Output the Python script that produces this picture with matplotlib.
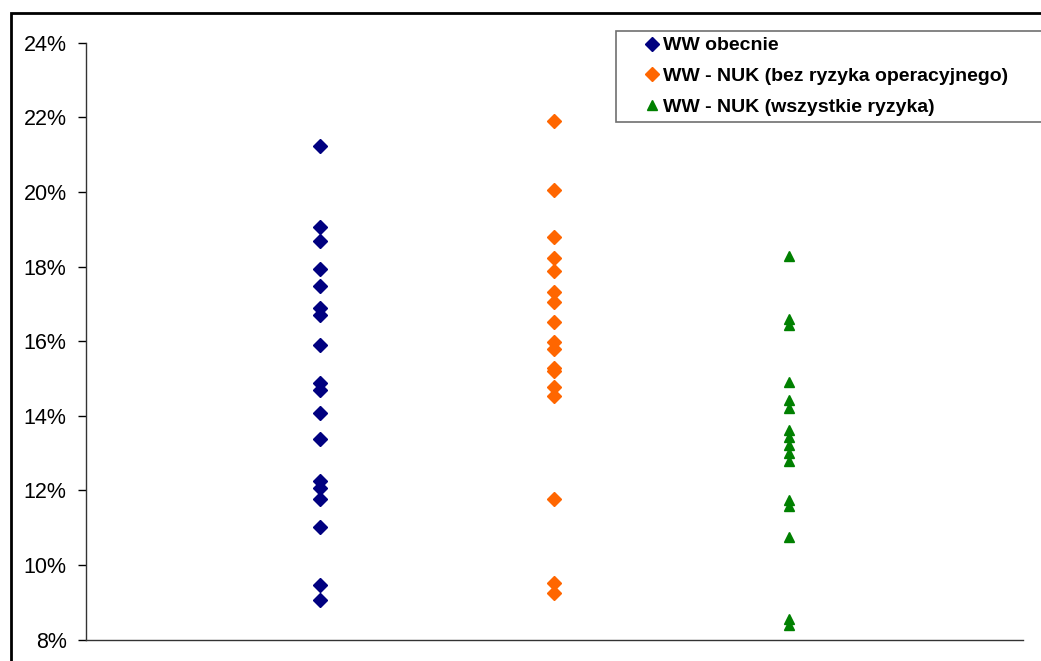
import numpy as np
import matplotlib.pyplot as plt
from matplotlib.patches import Rectangle
from matplotlib.ticker import FuncFormatter

plt.rcParams['font.family'] = ['Liberation Sans', 'DejaVu Sans']

# Values in percent for each scenario
ww_obecnie = [21.23, 19.05, 18.68, 17.93, 17.48, 16.88, 16.70, 15.89, 14.87,
              14.69, 14.06, 13.37, 12.25, 12.07, 11.78, 11.02, 9.46, 9.05]
ww_nuk_bez_oper = [21.89, 20.06, 18.79, 18.24, 17.88, 17.32, 17.05, 16.52,
                   15.98, 15.78, 15.29, 15.20, 14.78, 14.53, 11.77, 9.52, 9.25]
ww_nuk_wszystkie = [18.29, 16.58, 16.42, 14.90, 14.42, 14.22, 13.62, 13.42,
                    13.22, 13.01, 12.79, 11.73, 11.59, 10.76, 8.55, 8.40]

labels = ["WW obecnie",
          "WW - NUK (bez ryzyka operacyjnego)",
          "WW - NUK (wszystkie ryzyka)"]
yticks = [8, 10, 12, 14, 16, 18, 20, 22, 24]

fig = plt.figure(figsize=(10.41, 6.61), dpi=100)
ax = fig.add_axes([0.0826, 0.0325, 0.8998, 0.9029])

ax.plot(np.full(len(ww_obecnie), 1), ww_obecnie, linestyle='none', marker='D',
        markersize=7.1, color='#000080', label=labels[0])
ax.plot(np.full(len(ww_nuk_bez_oper), 2), ww_nuk_bez_oper, linestyle='none', marker='D',
        markersize=7.1, color='#FF6600', label=labels[1])
ax.plot(np.full(len(ww_nuk_wszystkie), 3), ww_nuk_wszystkie, linestyle='none', marker='^',
        markersize=7.7, color='#008000', label=labels[2])

ax.set_xlim(0, 4)
ax.set_ylim(8, 24)
ax.set_yticks(yticks)
ax.yaxis.set_major_formatter(FuncFormatter(lambda v, p: f"{v:.0f}%"))
ax.set_xticks([])
ax.tick_params(axis='y', direction='out', length=6, width=1, pad=8,
               labelsize=15.5, colors='black')

for side in ('top', 'right'):
    ax.spines[side].set_visible(False)
for side in ('left', 'bottom'):
    ax.spines[side].set_linewidth(1)
    ax.spines[side].set_color('#333333')

leg = ax.legend(loc='upper left', bbox_to_anchor=(0.5917, 0.70, 0.46, 0.2531),
                bbox_transform=fig.transFigure, mode='expand', borderaxespad=0,
                prop={'size': 14, 'weight': 'bold'}, numpoints=1,
                handlelength=3.1, handletextpad=-0.98, borderpad=0.3,
                labelspacing=0.68, fancybox=False, framealpha=1)
leg.get_frame().set_edgecolor('#707070')
leg.get_frame().set_linewidth(1.2)

# outer frame around the chart
fig.add_artist(Rectangle((11 / 1041, -0.1), 1.2, 1.1 - 13 / 661,
                         transform=fig.transFigure, fill=False,
                         edgecolor='black', linewidth=2))

plt.savefig("out.png", dpi=100)
